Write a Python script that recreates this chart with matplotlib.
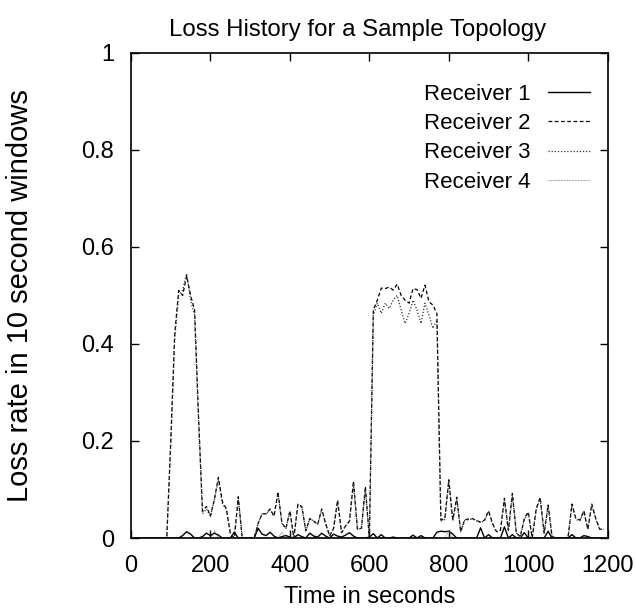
import numpy as np
import matplotlib.pyplot as plt

# time axis: one sample per 10 second window
t = np.arange(0, 1200, 10)

# receiver 2 (dashed) – loss rate per window
r2 = [0, 0, 0, 0, 0, 0, 0, 0, 0, 0,                                  # 0-90
      0.20, 0.42, 0.51, 0.50, 0.54, 0.50, 0.47, 0.25, 0.055, 0.065,   # 100-190
      0.045, 0.08, 0.125, 0.075, 0.06, 0.01, 0, 0.085, 0, 0,          # 200-290
      0, 0, 0.03, 0.05, 0.05, 0.06, 0.045, 0.095, 0.03, 0.02,         # 300-390
      0.056, 0, 0.07, 0.065, 0.015, 0.04, 0.035, 0.028, 0.06, 0.03,   # 400-490
      0.004, 0.02, 0.078, 0.011, 0.025, 0.035, 0.117, 0.018, 0.02, 0.106,  # 500-590
      0, 0.47, 0.49, 0.515, 0.514, 0.517, 0.511, 0.523, 0.50, 0.49,   # 600-690
      0.484, 0.514, 0.512, 0.494, 0.521, 0.487, 0.48, 0.463, 0.037, 0.04,  # 700-790
      0.12, 0.037, 0.084, 0.013, 0.038, 0.039, 0.04, 0.036, 0.033, 0.037,  # 800-890
      0.056, 0.03, 0.013, 0.016, 0.082, 0.016, 0.092, 0.01, 0.003, 0.04,   # 900-990
      0.054, 0, 0.06, 0.084, 0.01, 0.068, 0.003, 0, 0, 0,              # 1000-1090
      0, 0.07, 0.04, 0.037, 0.056, 0.018, 0.07, 0.04, 0.018, 0.018]    # 1100-1190

# receiver 3 (dotted)
r3 = [0, 0, 0, 0, 0, 0, 0, 0, 0, 0,
      0.19, 0.41, 0.50, 0.51, 0.545, 0.49, 0.46, 0.24, 0.05, 0.06,
      0.045, 0.08, 0.12, 0.07, 0.06, 0.01, 0, 0.08, 0, 0,
      0, 0, 0.03, 0.05, 0.05, 0.058, 0.045, 0.09, 0.03, 0.02,
      0.055, 0, 0.068, 0.063, 0.015, 0.04, 0.035, 0.028, 0.058, 0.03,
      0.004, 0.02, 0.075, 0.011, 0.025, 0.035, 0.112, 0.018, 0.02, 0.10,
      0, 0.46, 0.484, 0.463, 0.484, 0.473, 0.49, 0.50, 0.47, 0.442,
      0.463, 0.49, 0.47, 0.442, 0.484, 0.46, 0.432, 0.449, 0.035, 0.038,
      0.115, 0.035, 0.08, 0.013, 0.036, 0.038, 0.039, 0.035, 0.032, 0.036,
      0.054, 0.029, 0.013, 0.016, 0.078, 0.016, 0.088, 0.01, 0.003, 0.038,
      0.052, 0, 0.058, 0.08, 0.01, 0.065, 0.003, 0, 0, 0,
      0, 0.068, 0.038, 0.036, 0.054, 0.018, 0.068, 0.038, 0.018, 0.018]

# receiver 1 (solid)
r1 = [0, 0, 0, 0, 0, 0, 0, 0, 0, 0,
      0, 0, 0, 0.005, 0.013, 0.008, 0, 0, 0.003, 0.01,
      0.005, 0.01, 0.006, 0, 0, 0, 0.012, 0, 0, 0,
      0, 0, 0.02, 0.008, 0.005, 0.012, 0.004, 0, 0.003, 0.005,
      0.002, 0, 0.007, 0.003, 0, 0.01, 0.004, 0.002, 0.01, 0.004,
      0, 0.008, 0.004, 0.002, 0.006, 0.011, 0.004, 0, 0, 0,
      0.002, 0.009, 0, 0.007, 0, 0, 0.002, 0, 0, 0,
      0, 0.006, 0, 0.005, 0, 0, 0, 0.012, 0.014, 0.013,
      0.014, 0.008, 0, 0, 0, 0, 0, 0, 0.021, 0,
      0.007, 0, 0, 0, 0.023, 0, 0.007, 0, 0, 0.011,
      0, 0, 0, 0, 0, 0.014, 0, 0, 0, 0,
      0, 0.007, 0, 0, 0.005, 0.003, 0, 0, 0, 0]

# receiver 4 (fine dotted)
r4 = [0, 0, 0, 0, 0, 0, 0, 0, 0, 0,
      0, 0, 0, 0, 0, 0, 0, 0, 0, 0,
      0, 0.014, 0, 0, 0, 0, 0, 0, 0, 0,
      0, 0, 0, 0, 0, 0, 0, 0, 0.012, 0,
      0, 0, 0, 0, 0, 0, 0, 0, 0, 0,
      0, 0, 0, 0, 0, 0, 0, 0, 0, 0,
      0, 0, 0, 0, 0, 0, 0, 0, 0, 0,
      0, 0, 0, 0, 0, 0, 0, 0, 0, 0,
      0.015, 0, 0, 0, 0, 0, 0, 0, 0, 0,
      0, 0, 0, 0, 0, 0, 0, 0, 0, 0,
      0.006, 0, 0, 0, 0, 0, 0, 0, 0, 0,
      0, 0, 0, 0, 0, 0, 0, 0, 0, 0]

xticks = [0, 200, 400, 600, 800, 1000, 1200]
yticks = [0, 0.2, 0.4, 0.6, 0.8, 1]
ytick_labels = ["0", "0.2", "0.4", "0.6", "0.8", "1"]

plt.rcParams['font.family'] = ['Liberation Sans', 'DejaVu Sans']

fig = plt.figure(figsize=(6.36, 6.13), dpi=100)
ax = fig.add_axes([0.206, 0.1223, 0.7495, 0.7917])

ax.plot(t, r1, color='black', lw=1.0, ls='-', label='Receiver 1')
ax.plot(t, r2, color='black', lw=0.9, ls=(0, (3, 2)), label='Receiver 2')
ax.plot(t, r3, color='#333333', lw=0.9, ls=(0, (1, 1.5)), label='Receiver 3')
ax.plot(t, r4, color='#777777', lw=0.8, ls=(0, (0.6, 0.8)), label='Receiver 4')

ax.set_xlim(0, 1200)
ax.set_ylim(0, 1)
ax.set_xticks(xticks)
ax.set_yticks(yticks)
ax.set_yticklabels(ytick_labels)
ax.tick_params(direction='in', top=True, right=True, length=6, width=1,
               labelsize=17)
ax.tick_params(axis='x', pad=12)
ax.tick_params(axis='y', pad=12)
for s in ax.spines.values():
    s.set_linewidth(1.2)

ax.set_title('Loss History for a Sample Topology', fontsize=17.3, pad=12,
             x=0.475)
ax.set_xlabel('Time in seconds', fontsize=17, labelpad=7)
ax.set_ylabel('Loss rate in 10 second windows', fontsize=21, labelpad=34)

ax.legend(loc='upper right', bbox_to_anchor=(1.015, 0.986), frameon=False,
          markerfirst=False, fontsize=16, handlelength=1.9,
          handletextpad=0.8, labelspacing=0.37, borderaxespad=0.5,
          borderpad=0.6)

fig.savefig('out.png', dpi=100)
